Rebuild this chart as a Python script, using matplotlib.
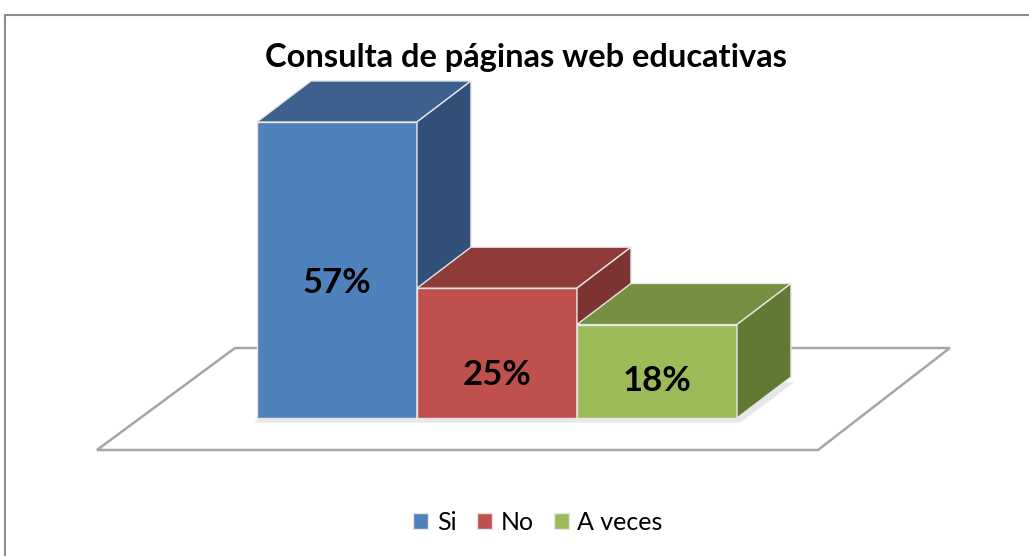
import matplotlib
matplotlib.use("Agg")
from matplotlib import pyplot as plt
from matplotlib.patches import Polygon, Rectangle

categories = ["Si", "No", "A veces"]
values = [57, 25, 18]
labels = ["57%", "25%", "18%"]
front_colors = ["#4F81BD", "#C0504D", "#9BBB59"]
top_colors = ["#3C618E", "#8E3B39", "#768F40"]
side_colors = ["#314F77", "#7C3331", "#627935"]

plt.rcParams['font.family'] = ['Lato', 'DejaVu Sans']

fig = plt.figure(figsize=(10.29, 5.56), dpi=100)
ax = fig.add_axes([0, 0, 1, 1])
ax.set_xlim(-2.106, 4.325)
ax.set_ylim(-26.57, 80.49)
ax.axis("off")

# depth of the fake 3d boxes, in data units
dx, dy = 0.3375, 7.9
w = 1.0

# floor
floor = Polygon([(-1.5, -6.16), (3.006, -6.16), (3.83, 13.48), (-0.6375, 13.48)],
                closed=True, facecolor="white", edgecolor="#A6A6A6", lw=1.8, zorder=1)
ax.add_patch(floor)

# soft shadow under the bars
ax.add_patch(Polygon([(-0.52, -0.9), (2.52, -0.9), (2.52 + dx, dy - 1.0), (-0.52 + dx, dy - 1.0)],
                     closed=True, facecolor="#D9D9D9", edgecolor="none", alpha=0.6, zorder=1.5))

label_shift = [-2.5, -4.2, -1.9]
for i, v in enumerate(values):
    x0 = i - w / 2
    x1 = i + w / 2
    z = 2 + i
    ax.bar(i, v, width=w, color=front_colors[i], edgecolor="#E6E6E6", lw=1, zorder=z,
           label=categories[i])
    top = Polygon([(x0, v), (x1, v), (x1 + dx, v + dy), (x0 + dx, v + dy)], closed=True,
                  facecolor=top_colors[i], edgecolor="#E6E6E6", lw=1, zorder=z)
    side = Polygon([(x1, 0), (x1 + dx, dy), (x1 + dx, v + dy), (x1, v)], closed=True,
                   facecolor=side_colors[i], edgecolor="#E6E6E6", lw=1, zorder=z)
    ax.add_patch(top)
    ax.add_patch(side)
    ax.text(i, v / 2 + label_shift[i], labels[i], ha="center", va="center",
            fontsize=25, fontweight="bold", color="black", zorder=10)

fig.text(526 / 1029, 1 - 58 / 556, "Consulta de páginas web educativas", ha="center", va="center",
         fontsize=23.5, fontweight="bold")

leg = ax.legend(loc="center", bbox_to_anchor=(538 / 1029, 1 - 522 / 556), ncol=3, frameon=False,
                fontsize=18, handlelength=0.6, handleheight=0.6, handletextpad=0.35, columnspacing=0.8)

# chart area border
fig.add_artist(Rectangle((5 / 1029, -0.05), 1.2, 1.05 - 15 / 556, transform=fig.transFigure,
                         fill=False, edgecolor="#8C8C8C", lw=1.5))

fig.savefig("out.png", dpi=100)
